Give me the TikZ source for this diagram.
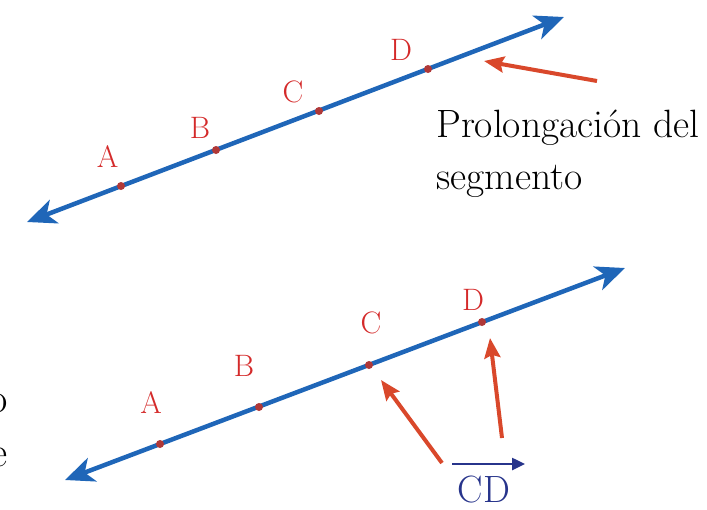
\documentclass[tikz,border=0pt]{standalone}
\usepackage{fontspec}
\usetikzlibrary{arrows.meta}
\definecolor{lineblue}{HTML}{1F66B8}
\definecolor{dotred}{HTML}{B03838}
\definecolor{labelred}{HTML}{D42A2A}
\definecolor{arrowred}{HTML}{D9482B}
\definecolor{navy}{HTML}{27348B}
\tikzset{
  blueline/.style={draw=lineblue, line width=4.5pt,
    {Stealth[length=29pt,width=25pt,inset=8pt]}-{Stealth[length=29pt,width=25pt,inset=8pt]}},
  ptdot/.style={circle, fill=dotred, inner sep=0pt, minimum size=8pt},
  ptlabel/.style={text=labelred, inner sep=0pt, font=\fontsize{31}{32}\selectfont},
  pointer/.style={draw=arrowred, line width=4pt, -{Stealth[length=20pt,width=16pt,inset=3pt]}},
  bodytext/.style={inner sep=0pt, font=\fontsize{39.5}{50}\selectfont, align=left},
  navyarrow/.style={draw=navy, line width=2.5pt, -{Triangle[length=13pt,width=12pt]}},
}
\begin{document}
\begin{tikzpicture}[x=1pt,y=-1pt]
\useasboundingbox (0,0) rectangle (707,509);
% ---------- top figure ----------
\coordinate (tL) at (27,222);
\coordinate (tR) at (564,17);
\draw[blueline] (tL) -- (tR);
\node[ptdot] (tA) at (121,186) {};
\node[ptdot] (tB) at (216,150) {};
\node[ptdot] (tC) at (319,111) {};
\node[ptdot] (tD) at (428,69) {};
\node[ptlabel] (tAl) at (107.5,157) {A};
\node[ptlabel] (tBl) at (200,128) {B};
\node[ptlabel] (tCl) at (293,92) {C};
\node[ptlabel] (tDl) at (401,50) {D};
\coordinate (tPtail) at (597,81);
\coordinate (tPtip) at (484,61);
\draw[pointer] (tPtail) -- (tPtip);
\node[bodytext, anchor=base west] (prol) at (436,137) {Prolongación del};
\node[bodytext, anchor=base west] (seg) at (436,189) {segmento};
% ---------- bottom figure ----------
\coordinate (bL) at (65,480);
\coordinate (bR) at (625,268);
\draw[blueline] (bL) -- (bR);
\node[ptdot] (bA) at (160,444) {};
\node[ptdot] (bB) at (259,407) {};
\node[ptdot] (bC) at (369,365) {};
\node[ptdot] (bD) at (482,322) {};
\node[ptlabel] (bAl) at (151,403) {A};
\node[ptlabel] (bBl) at (244,366) {B};
\node[ptlabel] (bCl) at (371,323) {C};
\node[ptlabel] (bDl) at (473,300) {D};
\coordinate (bP1tail) at (442,463);
\coordinate (bP1tip) at (381,380);
\coordinate (bP2tail) at (502,438);
\coordinate (bP2tip) at (490,338);
\draw[pointer] (bP1tail) -- (bP1tip);
\draw[pointer] (bP2tail) -- (bP2tip);
\coordinate (cdS) at (452,464);
\coordinate (cdE) at (525,464);
\draw[navyarrow] (cdS) -- (cdE);
\node[inner sep=0pt, text=navy, font=\fontsize{38}{40}\selectfont, anchor=base] (cd) at (484,502) {CD};
% ---------- clipped text at the left edge ----------
\node[inner sep=0pt, font=\fontsize{42}{50}\selectfont, anchor=base east] (fo) at (8,412) {o};
\node[inner sep=0pt, font=\fontsize{42}{50}\selectfont, anchor=base east] (fe) at (8,466) {e};
\end{tikzpicture}
\end{document}
